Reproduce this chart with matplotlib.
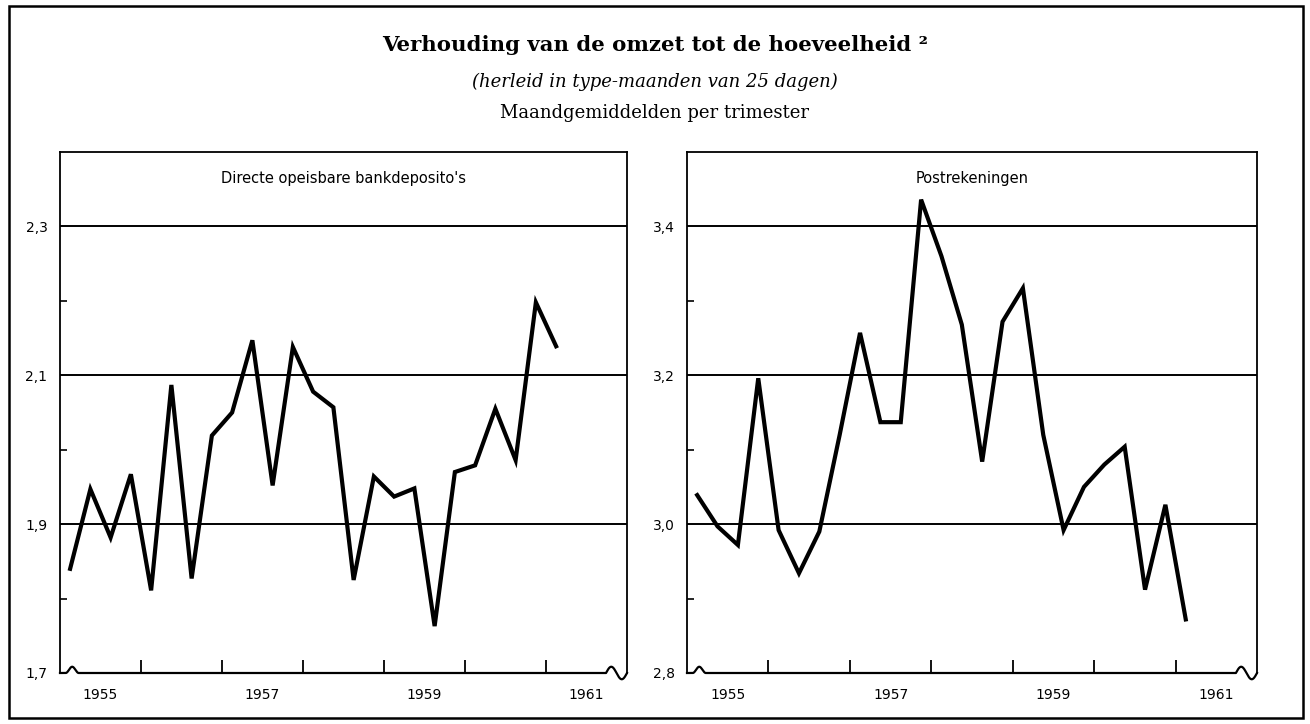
import numpy as np # numeric package
import matplotlib.pyplot as plt # package for plotting
from matplotlib.patches import Rectangle # frame around the whole figure

# quarters 1955-I .. 1961-I (maandgemiddelden per trimester)
periods = ['1955-1', '1955-2', '1955-3', '1955-4',
           '1956-1', '1956-2', '1956-3', '1956-4',
           '1957-1', '1957-2', '1957-3', '1957-4',
           '1958-1', '1958-2', '1958-3', '1958-4',
           '1959-1', '1959-2', '1959-3', '1959-4',
           '1960-1', '1960-2', '1960-3', '1960-4',
           '1961-1']

# Directe opeisbare bankdeposito's
bank = [1.840, 1.947, 1.882, 1.967, 1.811, 2.087, 1.827, 2.019, 2.050, 2.147,
        1.952, 2.138, 2.078, 2.057, 1.825, 1.964, 1.937, 1.948, 1.763, 1.970,
        1.979, 2.055, 1.986, 2.198, 2.139]

# Postrekeningen
post = [3.039, 2.997, 2.972, 3.196, 2.992, 2.934, 2.990, 3.120, 3.257, 3.137,
        3.137, 3.436, 3.360, 3.268, 3.084, 3.272, 3.317, 3.120, 2.992, 3.050,
        3.080, 3.104, 2.912, 3.026, 2.872]

year_labels = ['1955', '1957', '1959', '1961']
bank_yticks = [1.7, 1.9, 2.1, 2.3]
post_yticks = [2.8, 3.0, 3.2, 3.4]

# centre of every quarter on a time axis in years
x = np.array([int(p[:4]) + (int(p[5]) - 0.5) / 4 for p in periods])

W, H = 1310, 724
fig = plt.figure(figsize=(W / 100, H / 100), dpi=100)
fig.add_artist(Rectangle((9 / W, 6 / H), 1294 / W, 712 / H, fill=False,
                         lw=1.8, color='black', transform=fig.transFigure))

fig.text(0.5, 1 - 45 / H, 'Verhouding van de omzet tot de hoeveelheid \u00b2',
         ha='center', va='center', fontsize=15.3, fontweight='bold', family='DejaVu Serif')
fig.text(0.5, 1 - 82 / H, '(herleid in type-maanden van 25 dagen)',
         ha='center', va='center', fontsize=13, style='italic', family='DejaVu Serif')
fig.text(0.5, 1 - 113 / H, 'Maandgemiddelden per trimester',
         ha='center', va='center', fontsize=13, family='DejaVu Serif')


def panel(rect, values, yticks, title):
    ax = fig.add_axes(rect)
    lo = yticks[0]
    ax.set_xlim(1955, 1962)
    ax.set_ylim(lo, lo + 0.7)
    for g in yticks[1:]:
        ax.axhline(g, color='black', lw=1.4, zorder=1)
    ax.plot(x, values, color='black', lw=3.0, solid_joinstyle='miter', zorder=3)
    # y axis: labels at the grid lines, short inward ticks in between
    ax.set_yticks(yticks)
    ax.set_yticklabels([('%.1f' % t).replace('.', ',') for t in yticks])
    ax.set_yticks([t + 0.1 for t in yticks[:3]], minor=True)
    ax.tick_params(axis='y', which='major', length=0, pad=9, labelsize=10)
    ax.tick_params(axis='y', which='minor', length=5, width=1.2, direction='in')
    # x axis: ticks on year boundaries, labels in the middle of odd years
    ax.set_xticks(range(1956, 1962))
    ax.set_xticklabels([])
    ax.set_xticks([int(y) + 0.5 for y in year_labels], minor=True)
    ax.set_xticklabels(year_labels, minor=True)
    ax.tick_params(axis='x', which='major', length=9.5, width=1.3, direction='in')
    ax.tick_params(axis='x', which='minor', length=0, pad=11, labelsize=10)
    for s in ['left', 'right', 'top']:
        ax.spines[s].set_linewidth(1.3)
    ax.spines['bottom'].set_visible(False)
    # bottom line with the little break marks at both ends
    u = np.linspace(0, 1, 3000)
    v = np.zeros_like(u)
    m = (u > 0.010) & (u < 0.033)
    v[m] = 0.012 * np.sin(np.pi * (u[m] - 0.010) / 0.023) ** 2
    m = u > 0.963
    v[m] = 0.012 * np.sin(2 * np.pi * (u[m] - 0.963) / 0.037)
    ax.plot(u, v, color='black', lw=1.6, transform=ax.transAxes, clip_on=False)
    ax.text(0.5, 0.95, title, transform=ax.transAxes, ha='center', va='center',
            fontsize=10.5)
    return ax


panel([60 / W, 51 / H, 567 / W, 521 / H], bank, bank_yticks,
      "Directe opeisbare bankdeposito's")
panel([687 / W, 51 / H, 570 / W, 521 / H], post, post_yticks, 'Postrekeningen')

plt.savefig('out.png', dpi=100)
